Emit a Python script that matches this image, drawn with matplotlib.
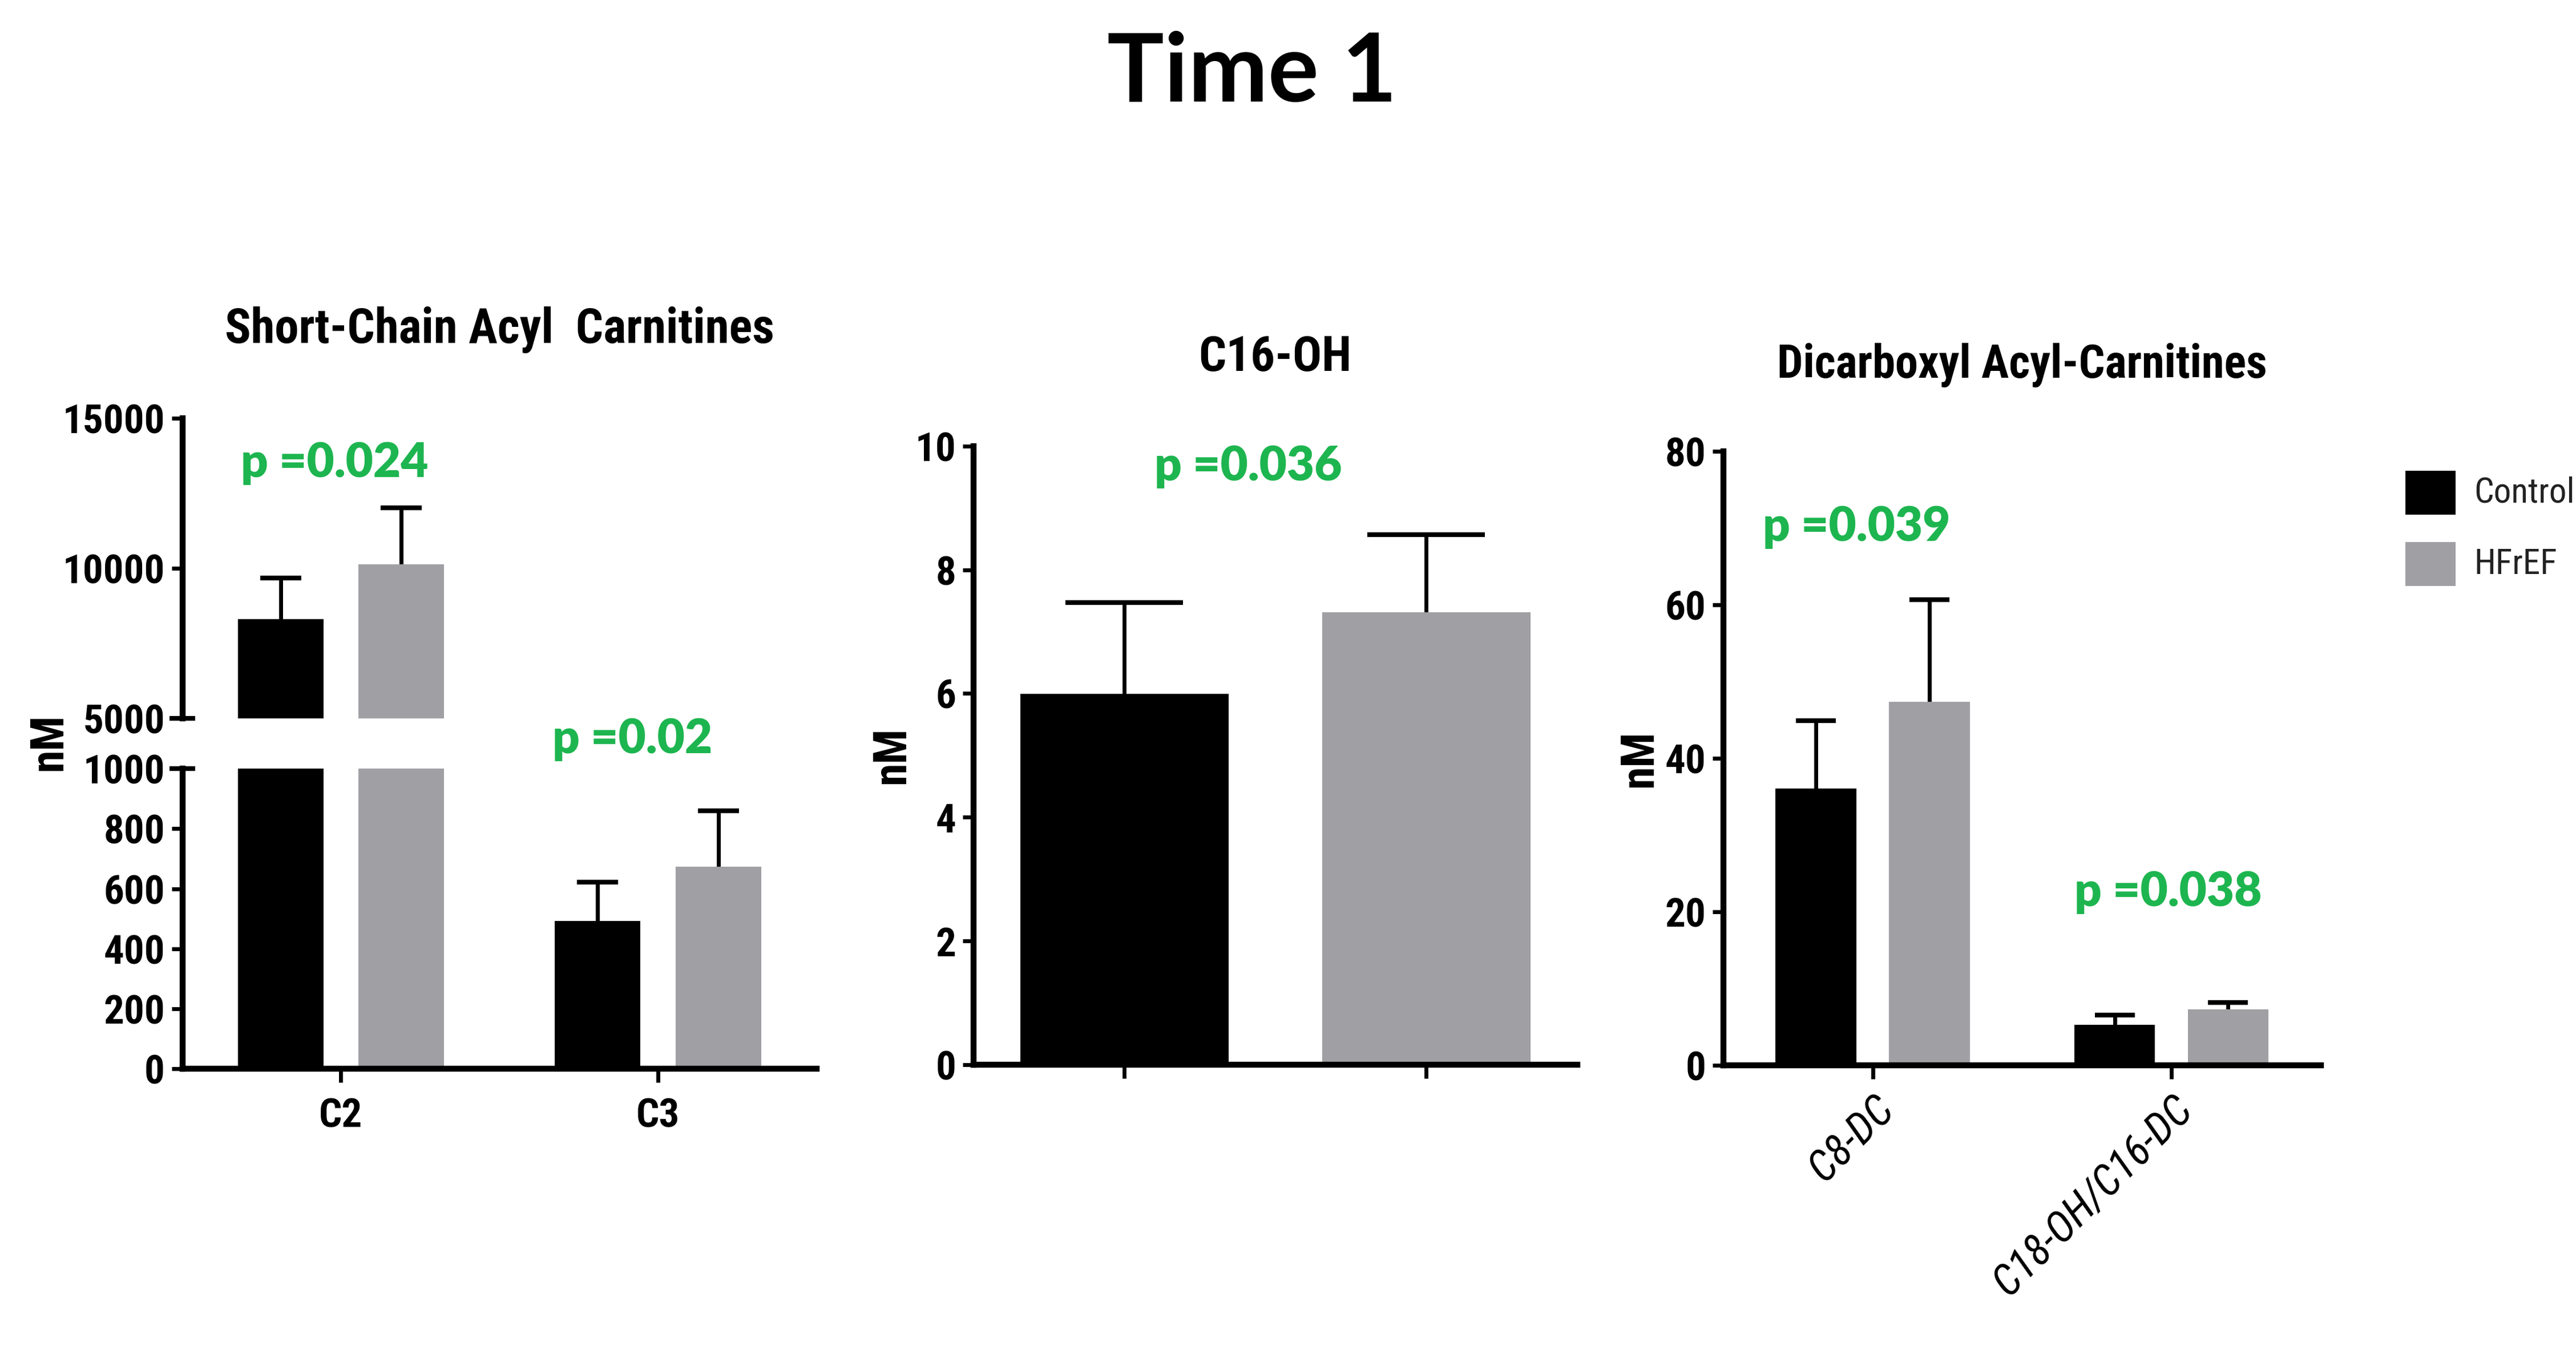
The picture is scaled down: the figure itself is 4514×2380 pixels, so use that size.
import matplotlib
matplotlib.use("Agg")
import matplotlib.pyplot as plt
from matplotlib.patches import Rectangle

# colours of the two groups
groups = ["Control", "HFrEF"]
colors = ["#000000", "#A0A0A4"]

# short-chain acyl carnitines (nM)
sc_labels = ["C2", "C3"]
sc_control = [8300, 493]
sc_control_err = [1377, 128]
sc_hfref = [10126, 673]
sc_hfref_err = [1881, 186]
sc_p = ["p =0.024", "p =0.02"]

# C16-OH (nM)
c16_values = [5.99, 7.31]
c16_err = [1.48, 1.26]
c16_p = "p =0.036"

# dicarboxyl acyl-carnitines (nM)
dc_labels = ["C8-DC", "C18-OH/C16-DC"]
dc_control = [36.1, 5.3]
dc_control_err = [8.8, 1.25]
dc_hfref = [47.4, 7.3]
dc_hfref_err = [13.3, 0.9]
dc_p = ["p =0.039", "p =0.038"]

NARROW = ["Roboto Condensed", "DejaVu Sans"]
CALIB = ["Lato", "DejaVu Sans"]
GREEN = "#1DB54F"

W, H = 1568.0, 827.0


def rect(left, right, top, bottom):
    # reference pixel box -> figure fraction
    return [left / W, 1 - bottom / H, (right - left) / W, (bottom - top) / H]


def narrow(t, size, weight="bold"):
    t.set_family(NARROW)
    t.set_stretch("condensed")
    t.set_fontweight(weight)
    t.set_fontsize(size)


def style_axis(ax, bottom=True):
    for s in ["top", "right"]:
        ax.spines[s].set_visible(False)
    ax.spines["left"].set_linewidth(7.5)
    ax.spines["bottom"].set_linewidth(7.5)
    if not bottom:
        ax.spines["bottom"].set_visible(False)
    ax.tick_params(axis="y", direction="out", length=14, width=5, pad=8)
    ax.tick_params(axis="x", direction="out", length=17, width=5, pad=18)
    for lab in ax.get_yticklabels() + ax.get_xticklabels():
        narrow(lab, 51)
    ax.set_xlim(-0.5, 1.5)


def upper_errorbar(ax, x, y, err, capsize):
    _, caps, _ = ax.errorbar(x, y, yerr=[[0] * len(err), err], fmt="none",
                             ecolor="black", elinewidth=5, capsize=capsize,
                             capthick=6, zorder=1)
    caps[0].set_visible(False)


def pair_bars(ax, ctrl, ctrl_err, hf, hf_err, width=0.27, off=0.19, cap=26):
    xs = range(len(ctrl))
    xc = [x - off for x in xs]
    xh = [x + off for x in xs]
    upper_errorbar(ax, xc, ctrl, ctrl_err, cap)
    upper_errorbar(ax, xh, hf, hf_err, cap)
    ax.bar(xc, ctrl, width, color=colors[0], zorder=2)
    ax.bar(xh, hf, width, color=colors[1], zorder=2)


def ptext(ax, x, y, s):
    ax.text(x, y, s, color=GREEN, family=CALIB, fontweight="heavy",
            fontsize=60, ha="center", va="center", clip_on=False)


def ylab(x, y):
    t = fig.text(x / W, 1 - y / H, "nM", rotation=90, ha="center", va="center")
    narrow(t, 58)


fig = plt.figure(figsize=(45.14, 23.8), dpi=100)

# ---- panel 1 : broken axis ----
ax1t = fig.add_axes(rect(111, 497, 254.7, 437.5))
ax1b = fig.add_axes(rect(111, 497, 468, 651))
for ax in (ax1t, ax1b):
    pair_bars(ax, sc_control, sc_control_err, sc_hfref, sc_hfref_err)
ax1t.set_ylim(5000, 15000)
ax1t.set_yticks([5000, 10000, 15000])
ax1t.set_xticks([])
ax1b.set_ylim(0, 1000)
ax1b.set_yticks(range(0, 1001, 200))
ax1b.set_xticks([0, 1])
ax1b.set_xticklabels(sc_labels)
style_axis(ax1t, bottom=False)
style_axis(ax1b)
# break marks
ax1t.plot([-0.02, 0.02], [0, 0], transform=ax1t.transAxes, color="black",
          lw=6, clip_on=False, solid_capstyle="butt")
ax1b.plot([-0.02, 0.02], [1, 1], transform=ax1b.transAxes, color="black",
          lw=6, clip_on=False, solid_capstyle="butt")
narrow(ax1t.set_title("Short-Chain Acyl  Carnitines", pad=95), 61)
ptext(ax1t, -0.02, 13500, sc_p[0])
ptext(ax1b, 0.92, 1098, sc_p[1])
ylab(30, 452)

# ---- panel 2 : C16-OH ----
ax2 = fig.add_axes(rect(592.5, 960, 271.6, 648.4))
upper_errorbar(ax2, [0, 1], c16_values, c16_err, 74)
ax2.bar([0, 1], c16_values, 0.69, color=colors, zorder=2)
ax2.set_ylim(0, 10)
ax2.set_yticks(range(0, 11, 2))
ax2.set_xticks([0, 1])
ax2.set_xticklabels(["", ""])
style_axis(ax2)
narrow(ax2.set_title("C16-OH", pad=95), 61)
ptext(ax2, 0.41, 9.67, c16_p)
ylab(543, 460)

# ---- panel 3 : dicarboxyl ----
ax3 = fig.add_axes(rect(1049, 1412.6, 275, 648.8))
pair_bars(ax3, dc_control, dc_control_err, dc_hfref, dc_hfref_err, cap=25)
ax3.set_ylim(0, 80)
ax3.set_yticks(range(0, 81, 20))
ax3.set_xticks([0, 1])
ax3.set_xticklabels(dc_labels)
style_axis(ax3)
for lab in ax3.get_xticklabels():
    lab.set_rotation(45)
    lab.set_ha("right")
    lab.set_rotation_mode("anchor")
    lab.set_fontstyle("italic")
    lab.set_fontweight("normal")
    lab.set_fontsize(54)
ax3.tick_params(axis="x", pad=12)
narrow(ax3.set_title("Dicarboxyl Acyl-Carnitines", pad=93), 58)
ptext(ax3, -0.055, 70.2, dc_p[0])
ptext(ax3, 0.99, 22.6, dc_p[1])
ylab(998, 462)

# ---- legend ----
legend_rows = [(286.6, 313.3), (330, 357)]
for (top, bot), name, col in zip(legend_rows, groups, colors):
    fig.add_artist(Rectangle((1464 / W, 1 - bot / H), 30.6 / W, (bot - top) / H,
                             transform=fig.transFigure, facecolor=col,
                             edgecolor="none"))
    t = fig.text(1506 / W, 1 - (top + bot) / 2 / H, name, ha="left",
                 va="center", color="#222222")
    narrow(t, 44, "normal")

fig.text(762 / W, 1 - 45 / H, "Time 1", ha="center", va="center",
         family=CALIB, fontweight="bold", fontsize=120)

fig.savefig("out.png", dpi=100)
